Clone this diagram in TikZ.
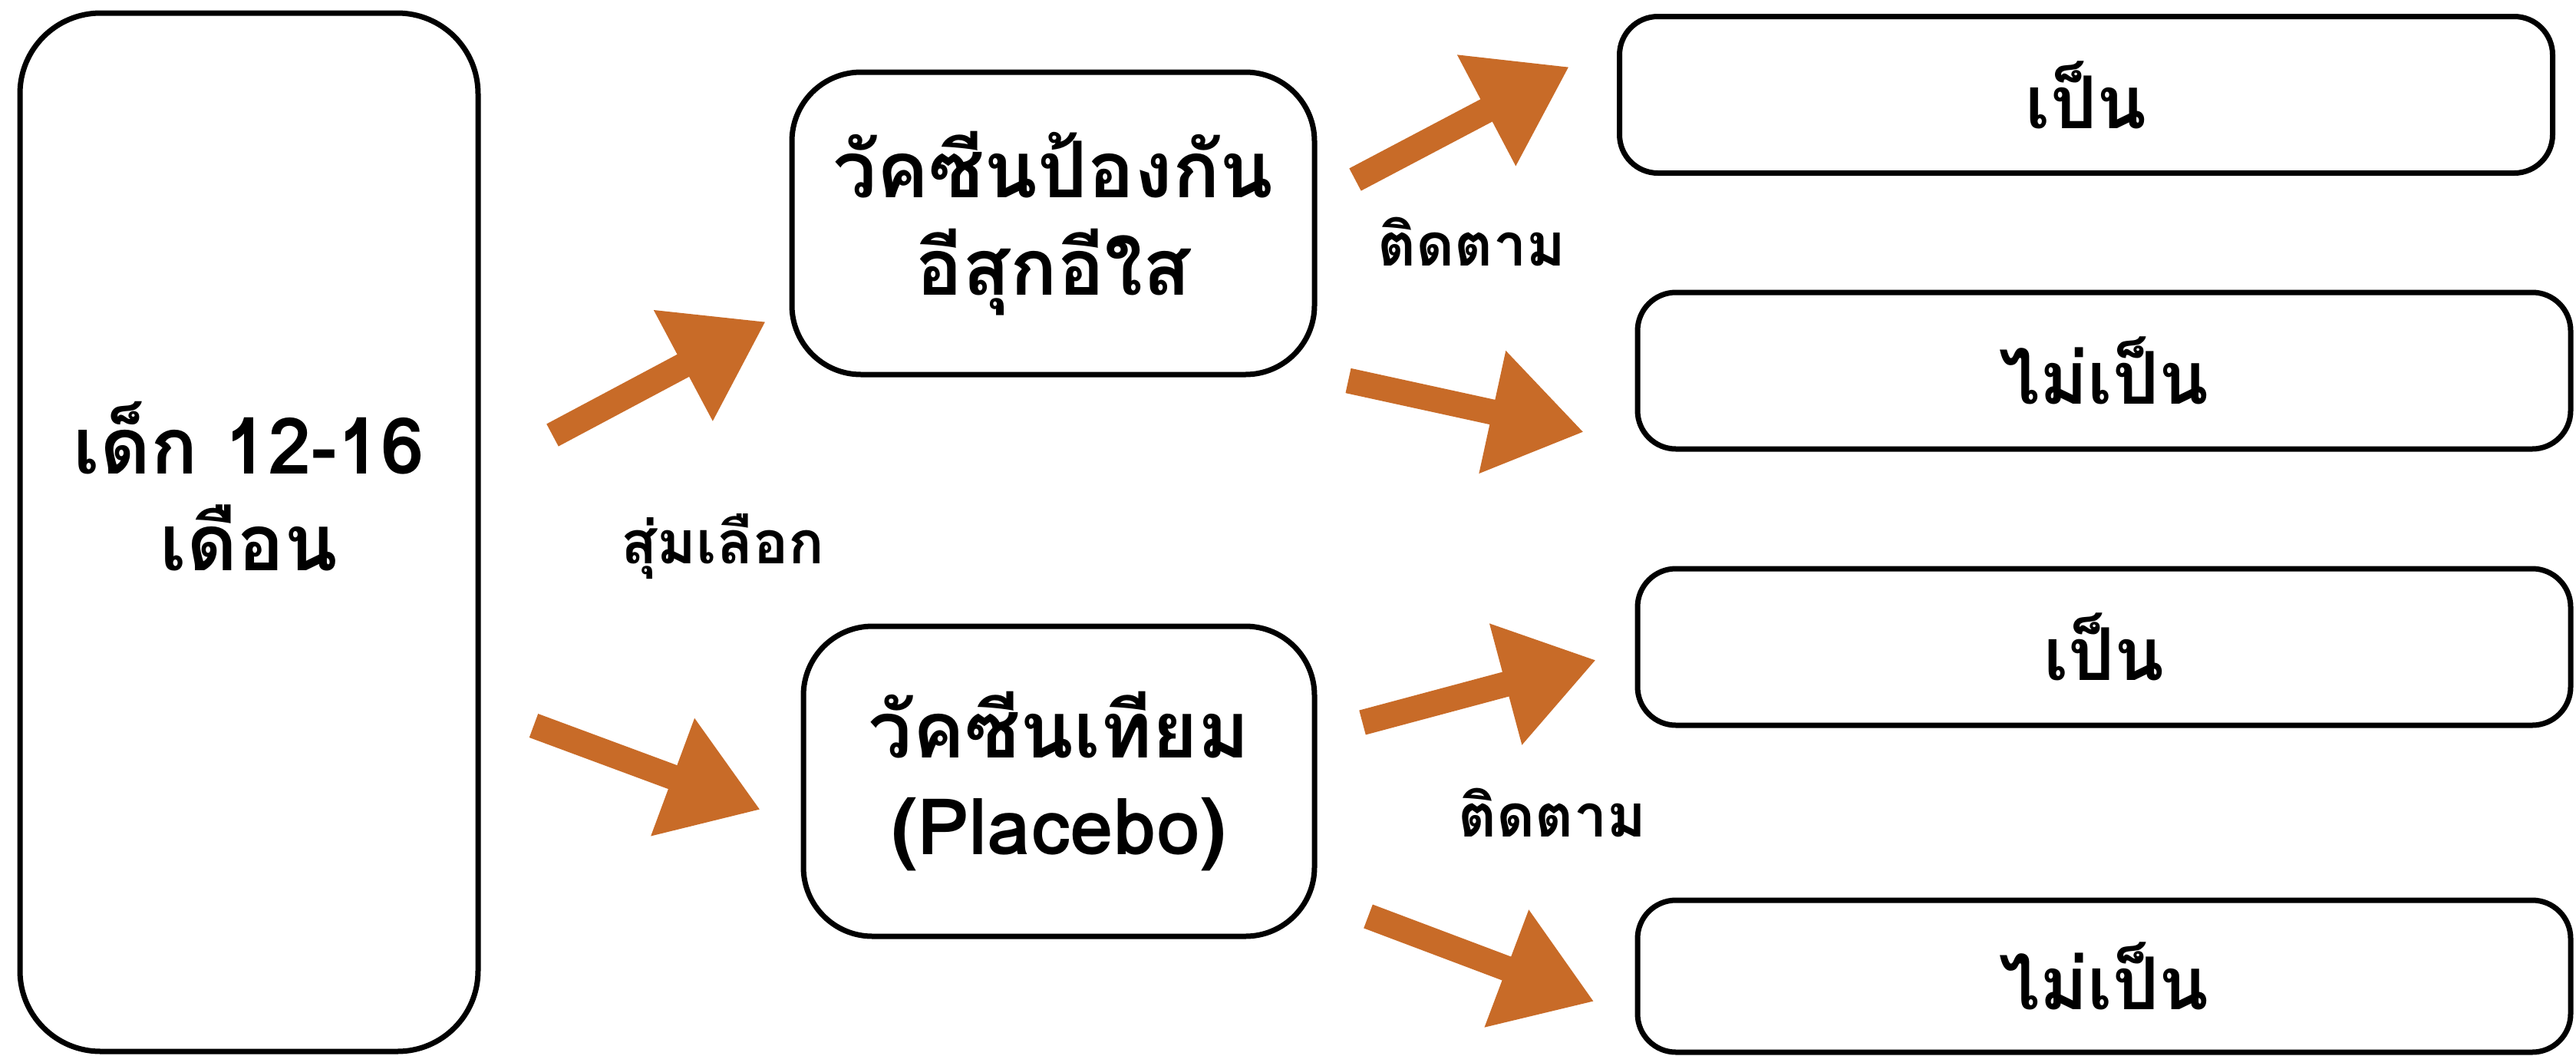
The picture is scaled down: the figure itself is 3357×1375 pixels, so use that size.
\documentclass[tikz,border=0pt]{standalone}
\usepackage{fontspec}
\newfontfamily\thaifont[Script=Thai]{Loma}
\usetikzlibrary{arrows.meta}
\definecolor{arroworange}{RGB}{200,107,40}
\begin{document}
\begin{tikzpicture}[x=0.1mm, y=-0.1mm,
            box/.style={draw, rectangle, line width=0.7mm, align=center, font=\thaifont\bfseries\fontsize{29}{36}\selectfont},
            result/.style={box, rounded corners=5mm, minimum width=121.6mm, minimum height=20.4mm, font=\thaifont\bfseries\fontsize{27}{32}\selectfont},
            note/.style={anchor=base, font=\thaifont\bfseries\fontsize{22}{26}\selectfont},
            bigarrow/.style={arroworange, line width=3.3mm, -{Triangle[length=12.2mm, width=15.5mm]}}]
            \useasboundingbox (0,0) rectangle (3357,1375);

            \node[box, rounded corners=10.5mm, minimum width=59.7mm, minimum height=135.3mm,
                label={[name=kidtext, align=center, yshift=6mm, font=\thaifont\bfseries\fontsize{29}{36}\selectfont]center:เด็ก 12-16\\เดือน}] (kid) at (324.5,693.5) {};
            \node[box, rounded corners=9mm, minimum width=68.1mm, minimum height=39.4mm] (vaccine) at (1372.5,291) {วัคซีนป้องกัน\\อีสุกอีใส};
            \node[box, rounded corners=9mm, minimum width=66.6mm, minimum height=40.4mm] (placebo) at (1380,1018) {วัคซีนเทียม\\(Placebo)};

            \node[result] (vpos) at (2718.5,123.5) {เป็น};
            \node[result] (vneg) at (2742,483) {ไม่เป็น};
            \node[result] (ppos) at (2742,843) {เป็น};
            \node[result, minimum height=19.8mm] (pneg) at (2742,1272) {ไม่เป็น};

            \node[note] (random) at (942,734) {สุ่มเลือก};
            \node[note] (follow1) at (1918,346) {ติดตาม};
            \node[note] (follow2) at (2023,1090) {ติดตาม};

            % arrow ends
            \coordinate (kidtail1) at (720,567);
            \coordinate (vaccinetip) at (998,419);
            \coordinate (kidtail2) at (695.5,945.5);
            \coordinate (placebotip) at (991,1055);
            \coordinate (vtail1) at (1766,234);
            \coordinate (vpostip) at (2045,87);
            \coordinate (vtail2) at (1757,496);
            \coordinate (vnegtip) at (2064,563);
            \coordinate (ptail1) at (1775.5,941.5);
            \coordinate (ppostip) at (2080,860);
            \coordinate (ptail2) at (1783,1194);
            \coordinate (pnegtip) at (2077.5,1305);

            \draw[bigarrow] (kidtail1) -- (vaccinetip);
            \draw[bigarrow] (kidtail2) -- (placebotip);
            \draw[bigarrow] (vtail1) -- (vpostip);
            \draw[bigarrow] (vtail2) -- (vnegtip);
            \draw[bigarrow] (ptail1) -- (ppostip);
            \draw[bigarrow] (ptail2) -- (pnegtip);
        \end{tikzpicture}
\end{document}
